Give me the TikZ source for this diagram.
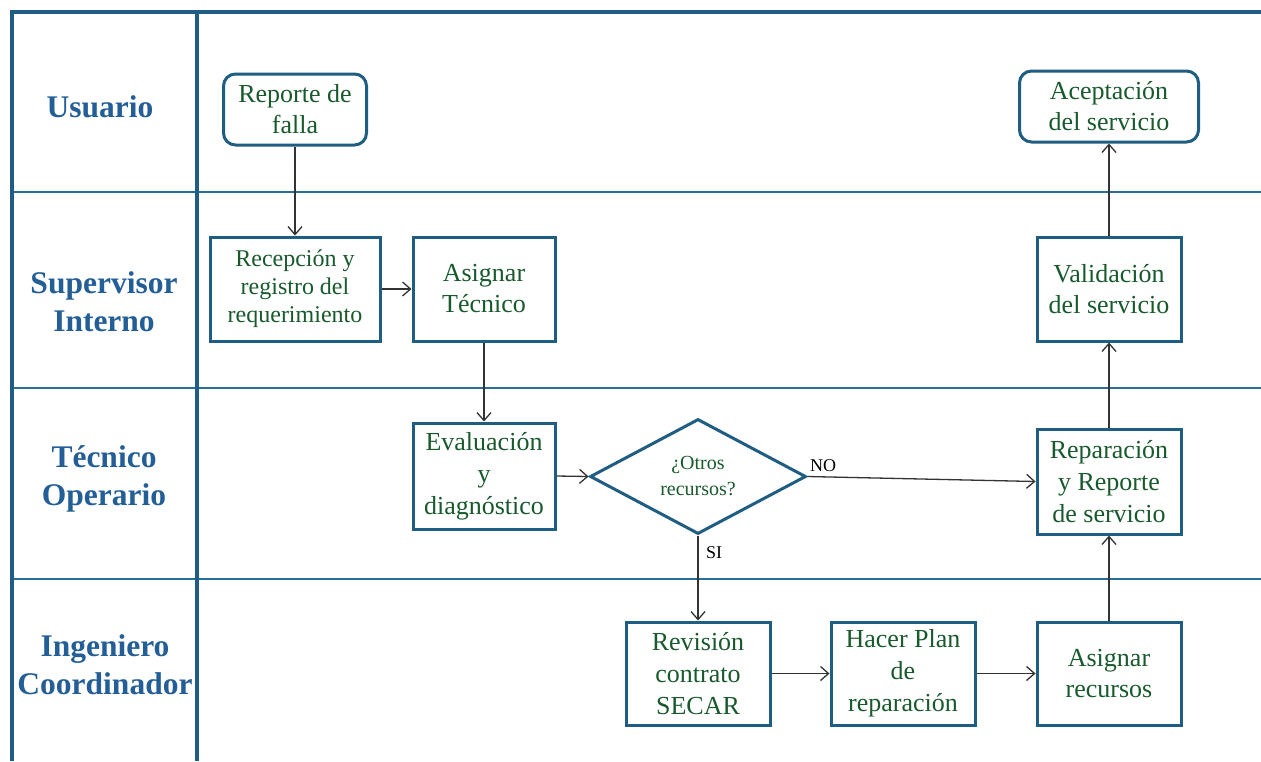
\documentclass[tikz,border=0pt]{standalone}
\usepackage{fontspec}
\setmainfont{Liberation Serif}
\usetikzlibrary{arrows.meta,shapes.geometric}
\definecolor{boxblue}{RGB}{31,94,130}
\definecolor{laneblue}{RGB}{40,110,150}
\definecolor{labelblue}{RGB}{35,95,150}
\definecolor{txtgreen}{RGB}{25,90,45}
\begin{document}
\begin{tikzpicture}[x=0.5pt,y=-0.5pt,
  stepbox/.style={draw=boxblue,line width=1.5pt,fill=white,align=center,text=txtgreen,inner sep=0pt,font=\fontsize{13}{15.5}\selectfont},
  roundbox/.style={stepbox,rounded corners=6pt},
  decbox/.style={stepbox,shape=diamond,font=\fontsize{10}{13}\selectfont},
  lanelabel/.style={text=labelblue,font=\bfseries\fontsize{15.75}{19}\selectfont,align=center},
  flow/.style={-{Straight Barb[length=4pt,width=7pt]},line width=0.65pt,draw=black!80},
  lbl/.style={font=\fontsize{9}{11}\selectfont,inner sep=0pt},
  border/.style={draw=boxblue,line width=2pt},
  laneline/.style={draw=laneblue,line width=1pt}]
\useasboundingbox (0,0) rectangle (1261,761);
\fill[white] (0,0) rectangle (1261,761);
% lanes
\draw[laneline] (12,192) -- (1261,192);
\draw[laneline] (12,388) -- (1261,388);
\draw[laneline] (12,579) -- (1261,579);
\draw[border] (12,761) -- (12,12) -- (1261,12);
\draw[border] (197,12) -- (197,761);
% lane labels
\node[lanelabel] (lu) at (100,107) {Usuario};
\node[lanelabel] (ls) at (104,302) {Supervisor\\Interno};
\node[lanelabel] (lt) at (104,479) {Técnico\\Operario};
\node[lanelabel] (li) at (105,665) {Ingeniero\\Coordinador};
% nodes
\node[roundbox,minimum width=71.5pt,minimum height=35.5pt] (rep) at (295,109.5) {Reporte de\\falla};
\node[roundbox,minimum width=89.5pt,minimum height=35.5pt] (acep) at (1109,106.5) {Aceptación\\del servicio};
\node[stepbox,minimum width=85pt,minimum height=52pt,font=\fontsize{12}{14}\selectfont] (rec) at (295,289) {Recepción y\\registro del\\requerimiento};
\node[stepbox,minimum width=71pt,minimum height=52pt] (asig) at (484,289) {Asignar\\Técnico};
\node[stepbox,minimum width=72pt,minimum height=52pt] (val) at (1109,289) {Validación\\del servicio};
\node[stepbox,minimum width=71pt,minimum height=53pt,font=\fontsize{13}{16}\selectfont] (eval) at (484,476) {Evaluación\\y\\diagnóstico};
\node[decbox,minimum width=108pt,minimum height=56.5pt] (dec) at (698,476.5) {¿Otros\\recursos?};
\node[stepbox,minimum width=72pt,minimum height=52.5pt,font=\fontsize{13}{16}\selectfont] (repa) at (1109,481.5) {Reparación\\y Reporte\\de servicio};
\node[stepbox,minimum width=72pt,minimum height=51.5pt,font=\fontsize{13}{16}\selectfont] (revi) at (698,673.5) {Revisión\\contrato\\SECAR};
\node[stepbox,minimum width=72pt,minimum height=51.5pt,font=\fontsize{13}{16}\selectfont] (plan) at (903,673.5) {Hacer Plan\\de\\reparación};
\node[stepbox,minimum width=72pt,minimum height=51.5pt] (recu) at (1109,673.5) {Asignar\\recursos};
% connectors
\draw[flow] (rep.south) -- (rec.north);
\draw[flow] (rec.east) -- (asig.west);
\draw[flow] (asig.south) -- (eval.north);
\draw[flow] (eval.east) -- (dec.west);
\draw[flow] (dec.east) -- (repa.west);
\draw[flow] (dec.south) -- (revi.north);
\draw[flow] (revi.east) -- (plan.west);
\draw[flow] (plan.east) -- (recu.west);
\draw[flow] (recu.north) -- (repa.south);
\draw[flow] (repa.north) -- (val.south);
\draw[flow] (val.north) -- (acep.south);
% labels
\node[lbl] (no) at (823,466) {NO};
\node[lbl] (si) at (714,553) {SI};
\end{tikzpicture}
\end{document}
